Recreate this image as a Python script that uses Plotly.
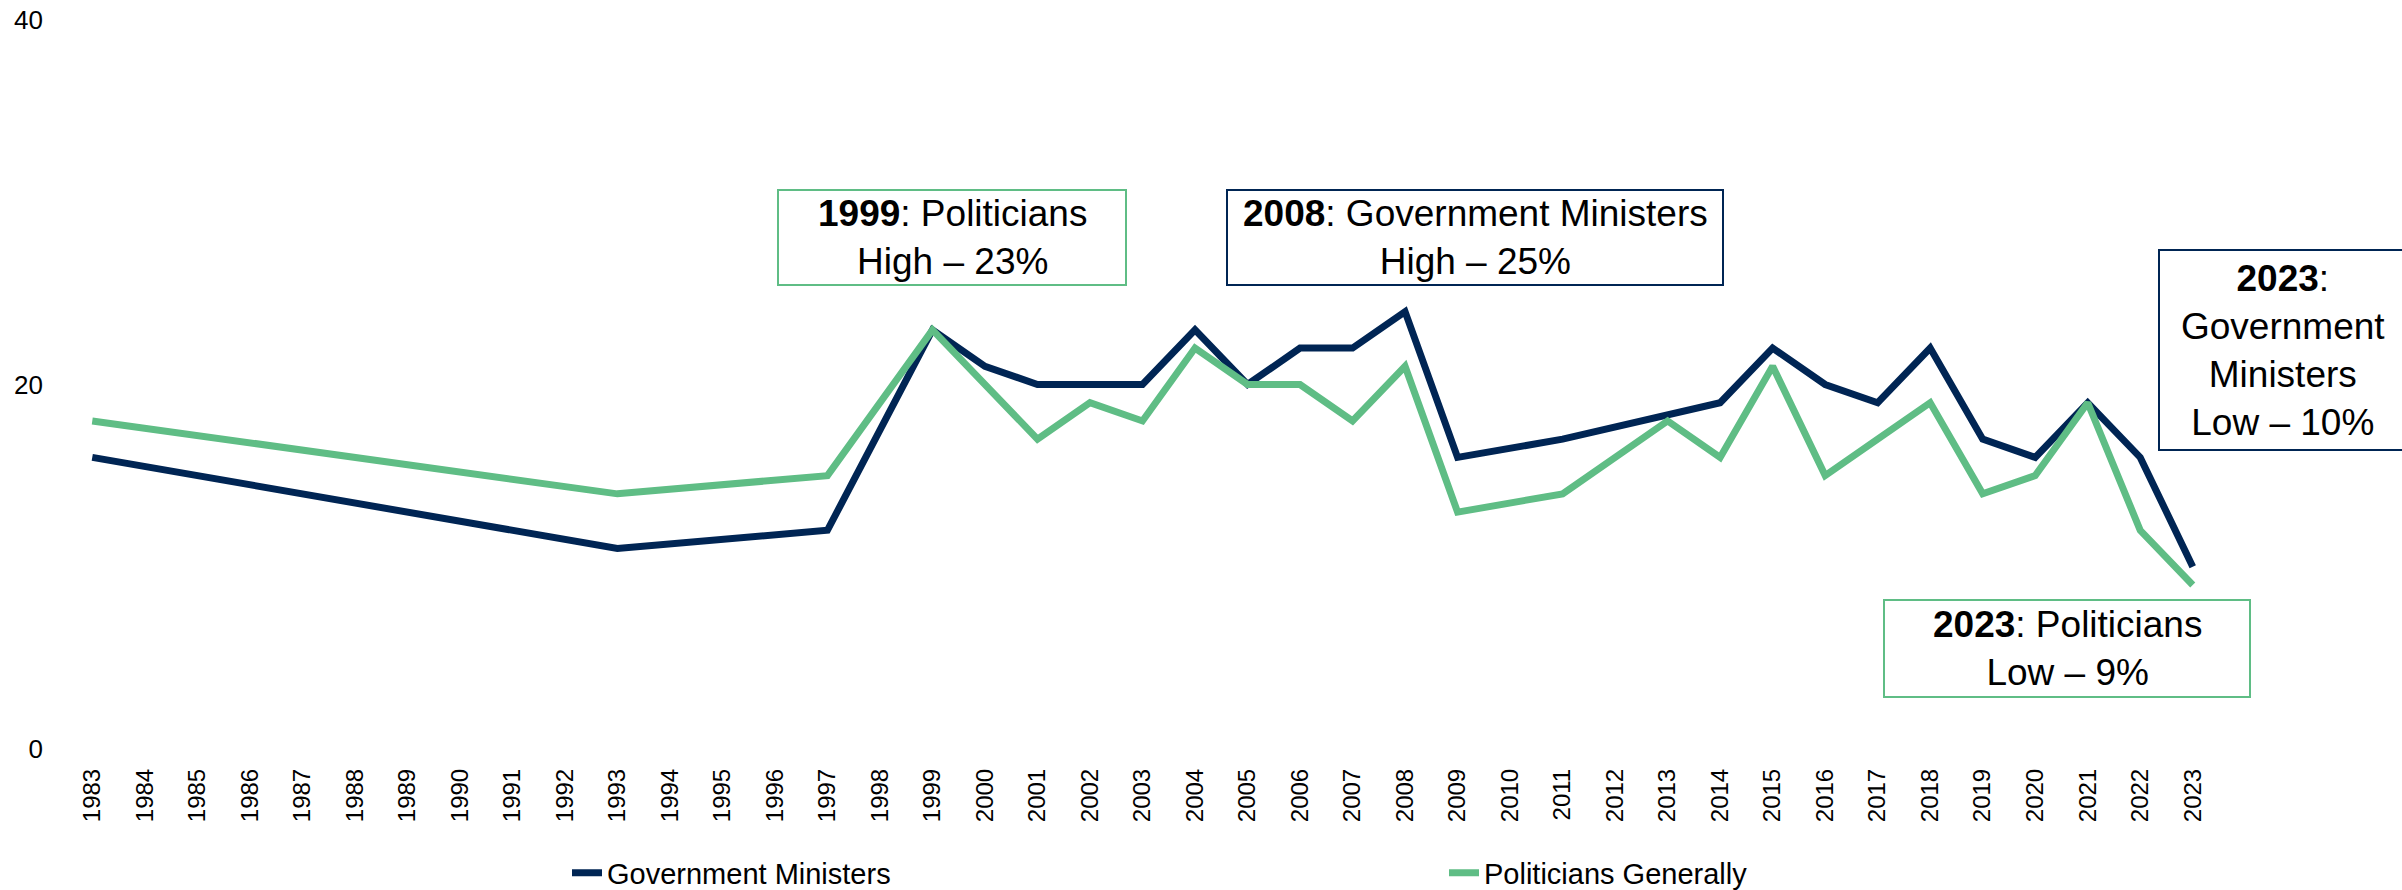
import plotly.graph_objects as go

years = [str(y) for y in range(1983, 2024)]

# Values by year (missing years were not surveyed; lines are connected across gaps)
gov_ministers = {
    1983: 16, 1993: 11, 1997: 12, 1999: 23, 2000: 21, 2001: 20, 2002: 20,
    2003: 20, 2004: 23, 2005: 20, 2006: 22, 2007: 22, 2008: 24, 2009: 16,
    2011: 17, 2014: 19, 2015: 22, 2016: 20, 2017: 19, 2018: 22, 2019: 17,
    2020: 16, 2021: 19, 2022: 16, 2023: 10,
}
politicians = {
    1983: 18, 1993: 14, 1997: 15, 1999: 23, 2001: 17, 2002: 19, 2003: 18,
    2004: 22, 2005: 20, 2006: 20, 2007: 18, 2008: 21, 2009: 13, 2011: 14,
    2013: 18, 2014: 16, 2015: 21, 2016: 15, 2017: 17, 2018: 19, 2019: 14,
    2020: 15, 2021: 19, 2022: 12, 2023: 9,
}
y_ticks = [0, 20, 40]

NAVY = "#002554"
GREEN = "#5FBD85"
FONT = "Liberation Sans, Arial, sans-serif"

gov_y = [gov_ministers.get(int(y)) for y in years]
pol_y = [politicians.get(int(y)) for y in years]

W, H = 2402, 890
ML, MR, MT, MB = 66, 183, 20, 141
PW, PH = W - ML - MR, H - MT - MB

def px(x):
    return (x - ML) / PW

def py(y):
    return (H - MB - y) / PH

fig = go.Figure()
fig.add_trace(go.Scatter(x=years, y=gov_y, mode="lines", name="Government Ministers",
                         connectgaps=True, line=dict(color=NAVY, width=7)))
fig.add_trace(go.Scatter(x=years, y=pol_y, mode="lines", name="Politicians Generally",
                         connectgaps=True, line=dict(color=GREEN, width=7)))

def box(text, x0, y0, x1, y1, color, tx=None):
    fig.add_shape(type="rect", xref="paper", yref="paper",
                  x0=px(x0), x1=px(x1), y0=py(y1), y1=py(y0),
                  line=dict(color=color, width=2), fillcolor="rgba(0,0,0,0)",
                  layer="above")
    cx = (x0 + x1) / 2 if tx is None else tx
    fig.add_annotation(text=text, xref="paper", yref="paper", x=px(cx), y=py((y0 + y1) / 2),
                       xanchor="center", yanchor="middle", showarrow=False,
                       align="center", borderpad=0,
                       font=dict(family=FONT, size=37, color="black"))

box("<b>1999</b>: Politicians<br>High – 23%", 778, 190, 1126, 285, GREEN)
box("<b>2008</b>: Government Ministers<br>High – 25%", 1227, 190, 1723, 285, NAVY)
box("<b>2023</b>:<br>Government<br>Ministers<br>Low – 10%", 2159, 250, 2430, 450, NAVY, tx=2283)
box("<b>2023</b>: Politicians<br>Low – 9%", 1884, 600, 2250, 697, GREEN)

fig.update_layout(
    width=W, height=H,
    margin=dict(l=ML, r=MR, t=MT, b=MB, autoexpand=False),
    paper_bgcolor="white", plot_bgcolor="white",
    font=dict(family=FONT, color="black"),
    showlegend=True,
    legend=dict(orientation="h", xref="container", yref="container",
                x=567 / W, y=1 - 873 / H, xanchor="left", yanchor="middle",
                entrywidth=832, entrywidthmode="pixels",
                font=dict(family=FONT, size=29, color="black"),
                bgcolor="rgba(0,0,0,0)"),
    xaxis=dict(type="category", categoryorder="array", categoryarray=years,
               range=[-0.5, len(years) - 0.5], tickangle=-90,
               tickfont=dict(family=FONT, size=24, color="black"),
               showgrid=False, zeroline=False, showline=False, ticks="",
               ticklabelstandoff=14),
    yaxis=dict(range=[0, 40], tickvals=y_ticks, ticktext=[str(v) for v in y_ticks],
               tickfont=dict(family=FONT, size=26, color="black"),
               showgrid=False, zeroline=False, showline=False, ticks="",
               ticklabelstandoff=22),
)

fig.write_html("out.html", config={"displayModeBar": False},
               post_script="document.body.style.margin='0';document.body.style.overflow='hidden';")
